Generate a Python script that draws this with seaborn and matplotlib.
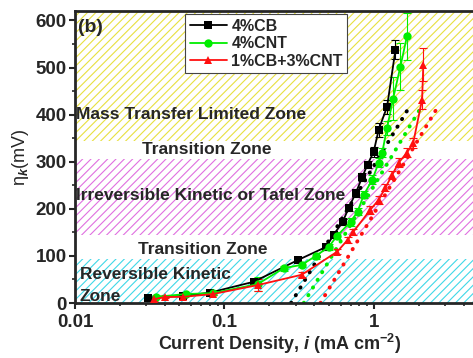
import numpy as np
import pandas as pd
import matplotlib
matplotlib.use("Agg")
import matplotlib.pyplot as plt
import seaborn as sns

# 4%CB
cb_i = [0.031, 0.053, 0.080, 0.157, 0.31, 0.48, 0.54, 0.62, 0.68, 0.76, 0.84, 0.91, 1.0, 1.08, 1.23, 1.40]
cb_eta = [11, 15, 22, 45, 91, 119, 145, 172, 202, 234, 268, 294, 321, 368, 417, 538]
cb_err = [3, 3, 3, 5, 6, 6, 6, 6, 6, 8, 8, 8, 10, 15, 15, 20]

# 4%CNT
cnt_i = [0.035, 0.055, 0.084, 0.167, 0.25, 0.33, 0.41, 0.50, 0.57, 0.70, 0.78, 0.86, 0.98, 1.08, 1.14, 1.23, 1.35, 1.51, 1.67]
cnt_eta = [13, 19, 21, 40, 74, 81, 100, 119, 143, 172, 194, 230, 262, 298, 319, 372, 434, 502, 566]
cnt_err = [3, 3, 3, 15, 5, 5, 6, 6, 8, 8, 8, 8, 10, 10, 10, 15, 45, 50, 50]

# 1%CB+3%CNT
mix_i = [0.034, 0.040, 0.053, 0.084, 0.167, 0.33, 0.57, 0.67, 0.73, 0.95, 1.08, 1.20, 1.33, 1.47, 1.67, 1.84, 2.11, 2.15]
mix_eta = [8, 13, 13, 19, 38, 60, 109, 134, 151, 198, 219, 245, 272, 298, 319, 340, 432, 506]
mix_err = [3, 3, 3, 3, 12, 5, 6, 6, 6, 8, 8, 8, 8, 10, 10, 10, 20, 35]

# Tafel fit lines (end points)
tafel_i = {"4%CB": [0.28, 1.77], "4%CNT": [0.34, 2.11], "1%CB+3%CNT": [0.44, 2.72]}
tafel_eta = {"4%CB": [0, 421], "4%CNT": [0, 419], "1%CB+3%CNT": [0, 419]}

labels = ["4%CB", "4%CNT", "1%CB+3%CNT"]
colors = {"4%CB": "black", "4%CNT": "#00ee00", "1%CB+3%CNT": "#ff1010"}
markers = {"4%CB": "s", "4%CNT": "o", "1%CB+3%CNT": "^"}

# zones: (low, high, colour)
zones = [(345, 620, "#e8e040"), (145, 305, "#e070e0"), (0, 93, "#40d8e8")]

df = pd.concat([
    pd.DataFrame({"i": cb_i, "eta": cb_eta, "err": cb_err, "sample": "4%CB"}),
    pd.DataFrame({"i": cnt_i, "eta": cnt_eta, "err": cnt_err, "sample": "4%CNT"}),
    pd.DataFrame({"i": mix_i, "eta": mix_eta, "err": mix_err, "sample": "1%CB+3%CNT"}),
])

sns.set_theme(style="ticks")
plt.rcParams["font.family"] = ["Liberation Sans", "DejaVu Sans"]
plt.rcParams["font.weight"] = "bold"
plt.rcParams["mathtext.fontset"] = "custom"
plt.rcParams["mathtext.rm"] = "Liberation Sans:bold"
plt.rcParams["mathtext.it"] = "Liberation Sans:italic:bold"
plt.rcParams["mathtext.bf"] = "Liberation Sans:bold"
plt.rcParams["hatch.linewidth"] = 0.8

fig = plt.figure(figsize=(4.73, 3.58), dpi=100)
ax = fig.add_axes([75 / 473, 1 - 303 / 358, 448 / 473, 292 / 358])

for lo, hi, c in zones:
    ax.axhspan(lo, hi, facecolor="none", edgecolor=c, hatch="////", linewidth=0, zorder=0)

for s in labels:
    ax.plot(tafel_i[s], tafel_eta[s], linestyle=(0, (0.1, 2.2)), color=colors[s],
            linewidth=2.8, dash_capstyle="round", zorder=2)

for s in labels:
    d = df[df["sample"] == s]
    ax.errorbar(d["i"], d["eta"], yerr=d["err"], fmt="none", ecolor=colors[s],
                elinewidth=0.8, capsize=3, capthick=0.8, zorder=3)

sns.lineplot(data=df, x="i", y="eta", hue="sample", style="sample",
             palette=colors, markers=markers, dashes=False, hue_order=labels,
             style_order=labels, markersize=6, markeredgewidth=0, linewidth=1.3,
             ax=ax, zorder=4)

ax.set_xscale("log")
ax.set_xlim(0.01, 10)
ax.set_ylim(0, 620)
ax.set_yticks([0, 100, 200, 300, 400, 500, 600])
ax.set_yticks(np.arange(50, 620, 100), minor=True)
ax.set_xticks([0.01, 0.1, 1])
ax.set_xticklabels(["0.01", "0.1", "1"])

for sp in ax.spines.values():
    sp.set_linewidth(2)
ax.tick_params(axis="both", which="major", direction="out", length=4, width=1.5,
               labelsize=13.5, pad=2)
ax.tick_params(axis="x", which="major", pad=4)
ax.tick_params(axis="both", which="minor", direction="out", length=2.5, width=1.2)
for lab in ax.get_xticklabels() + ax.get_yticklabels():
    lab.set_fontweight("bold")

ax.set_xlabel(r"Current Density, $i$ (mA cm$^{-2}$)", fontsize=13, fontweight="bold")
ax.xaxis.set_label_coords((280 - 75) / 448, (303 - 344) / 292)
ax.xaxis.label.set_va("center")
ax.set_ylabel("η$_k$(mV)", fontsize=13, labelpad=3)

zone_font = 12.5
ax.text(0.0104, 585, "(b)", fontsize=14, fontweight="bold", va="center")
ax.text(0.0101, 400, "Mass Transfer Limited Zone", fontsize=zone_font, fontweight="bold", va="center")
ax.text(0.0757, 325, "Transition Zone", fontsize=zone_font, fontweight="bold", va="center", ha="center")
ax.text(0.0101, 228, "Irreversible Kinetic or Tafel Zone", fontsize=zone_font, fontweight="bold", va="center")
ax.text(0.0713, 113, "Transition Zone", fontsize=zone_font, fontweight="bold", va="center", ha="center")
ax.text(0.0108, 60, "Reversible Kinetic", fontsize=zone_font, fontweight="bold", va="center")
ax.text(0.0108, 13, "Zone", fontsize=zone_font, fontweight="bold", va="center")

handles, _ = ax.get_legend_handles_labels()
leg = ax.legend(handles=handles[-3:] if len(handles) > 3 else handles, labels=labels,
                loc="upper left", bbox_to_anchor=((185 - 75) / 448, 0.99), borderaxespad=0,
                frameon=True, fancybox=False, edgecolor="#444444", framealpha=1,
                prop={"weight": "bold", "size": 11.5}, handlelength=2.3,
                handletextpad=0.3, labelspacing=0.15, borderpad=0.3)
leg.get_frame().set_linewidth(0.8)

fig.savefig("out.png", dpi=100)
